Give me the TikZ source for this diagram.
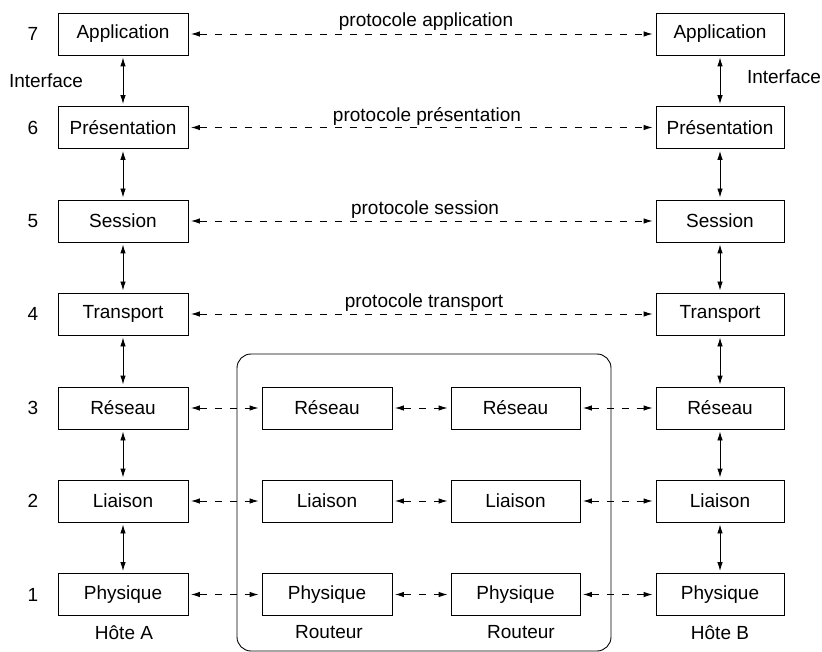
\documentclass[tikz,border=0pt]{standalone}
\usepackage{fontspec}
\setmainfont{Liberation Sans}
\usetikzlibrary{arrows.meta}
\begin{document}
\begin{tikzpicture}[x=1pt,y=-1pt,
  font=\fontsize{19}{23}\selectfont,
  box/.style={draw,line width=0.9pt,minimum width=130pt,minimum height=42pt,inner sep=0pt},
  plain/.style={inner sep=0pt},
  biarrow/.style={line width=0.9pt,{Latex[length=9pt,width=5.5pt]}-{Latex[length=9pt,width=5.5pt]},shorten <=2pt,shorten >=2pt},
  dasharrow/.style={line width=0.9pt,dash pattern=on 7pt off 8pt,{Latex[length=9pt,width=5.5pt]}-{Latex[length=9pt,width=5.5pt]},shorten <=2.5pt,shorten >=3pt},
  plabel/.style={anchor=base,inner sep=0pt}]
\useasboundingbox (0,0) rectangle (822,652);
% router enclosure
\draw[line width=0.9pt,rounded corners=14pt] (237,354) rectangle (611,651);
% host A
\node[box] (A7) at (123,34) {Application};
\node[box] (A6) at (123,127.5) {Présentation};
\node[box] (A5) at (123,221) {Session};
\node[box] (A4) at (123,314) {Transport};
\node[box] (A3) at (123,408) {Réseau};
\node[box] (A2) at (123,501) {Liaison};
\node[box] (A1) at (123,594.5) {Physique};
% host B
\node[box,minimum width=128pt] (B7) at (720,34) {Application};
\node[box,minimum width=128pt] (B6) at (720,127.5) {Présentation};
\node[box,minimum width=128pt] (B5) at (720,221) {Session};
\node[box,minimum width=128pt] (B4) at (720,314) {Transport};
\node[box,minimum width=128pt] (B3) at (720,408) {Réseau};
\node[box,minimum width=128pt] (B2) at (720,501) {Liaison};
\node[box,minimum width=128pt] (B1) at (720,594.5) {Physique};
% routers
\node[box] (R3) at (327,408) {Réseau};
\node[box] (R2) at (327,501) {Liaison};
\node[box] (R1) at (327,594.5) {Physique};
\node[box,minimum width=129pt] (S3) at (515.5,408) {Réseau};
\node[box,minimum width=129pt] (S2) at (515.5,501) {Liaison};
\node[box,minimum width=129pt] (S1) at (515.5,594.5) {Physique};
% layer numbers
\node[plain] (n7) at (33,34) {7};
\node[plain] (n6) at (33,127.5) {6};
\node[plain] (n5) at (33,221) {5};
\node[plain] (n4) at (33,314) {4};
\node[plain] (n3) at (33,408) {3};
\node[plain] (n2) at (33,501) {2};
\node[plain] (n1) at (33,594.5) {1};
% labels
\node[plain] (ifL) at (46,81) {Interface};
\node[plain] (ifR) at (784,77) {Interface};
\node[plain] (hA) at (124,633) {Hôte A};
\node[plain] (hB) at (720,633) {Hôte B};
\node[plain] (rA) at (329,632) {Routeur};
\node[plain] (rB) at (521,632) {Routeur};
% vertical arrows
\foreach \h in {A,B}{
  \draw[biarrow] (\h7) -- (\h6);
  \draw[biarrow] (\h6) -- (\h5);
  \draw[biarrow] (\h5) -- (\h4);
  \draw[biarrow] (\h4) -- (\h3);
  \draw[biarrow] (\h3) -- (\h2);
  \draw[biarrow] (\h2) -- (\h1);
}
% peer protocols
\draw[dasharrow] (A7) -- (B7);
\draw[dasharrow] (A6) -- (B6);
\draw[dasharrow] (A5) -- (B5);
\draw[dasharrow] (A4) -- (B4);
\node[plabel] (p7) at (426,27) {protocole application};
\node[plabel] (p6) at (427,121.5) {protocole présentation};
\node[plabel] (p5) at (425,215) {protocole session};
\node[plabel] (p4) at (424,308) {protocole transport};
% lower layers via routers
\foreach \i in {3,2,1}{
  \draw[dasharrow] (A\i) -- (R\i);
  \draw[dasharrow] (R\i) -- (S\i);
  \draw[dasharrow] (S\i) -- (B\i);
}
\end{tikzpicture}
\end{document}
